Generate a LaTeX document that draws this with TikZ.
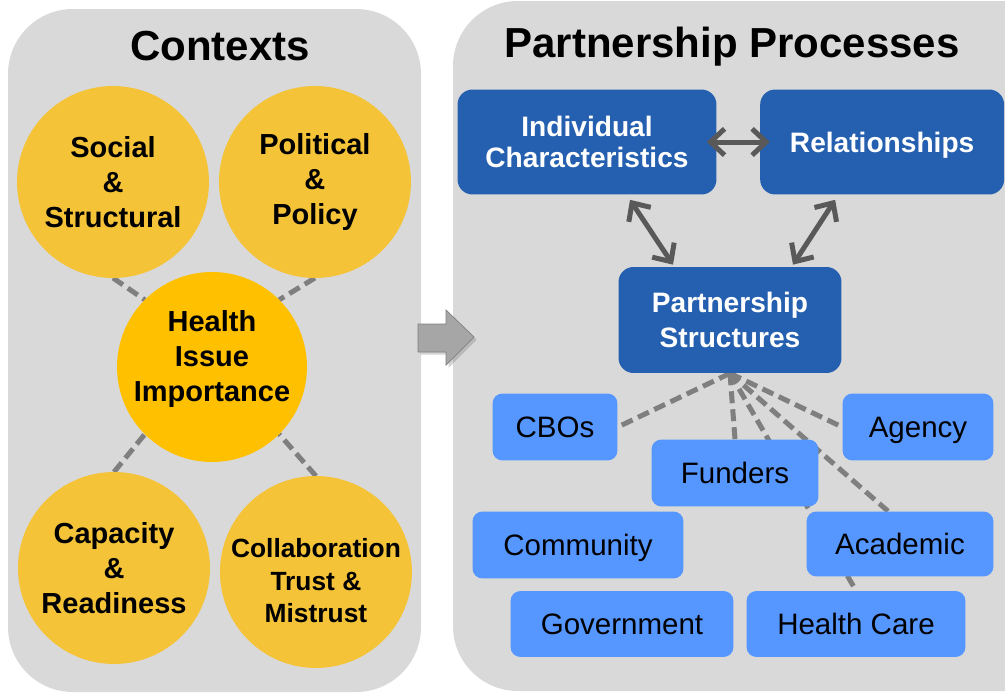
\documentclass[tikz,border=0pt]{standalone}
\usepackage{fontspec}
\setmainfont{Liberation Sans}
\usepackage{xcolor}
\usetikzlibrary{arrows.meta, positioning, calc, backgrounds, shadows}

\definecolor{panelgray}{HTML}{D9D9D9}
\definecolor{ctxgold}{RGB}{244,195,56}
\definecolor{hubgold}{HTML}{FFC000}
\definecolor{procblue}{RGB}{37,96,176}
\definecolor{actorblue}{RGB}{85,150,255}
\definecolor{linkgray}{HTML}{7F7F7F}
\definecolor{arrowgray}{HTML}{595959}

\begin{document}
\begin{tikzpicture}[
    x=0.02cm, y=-0.02cm,
    >={Straight Barb[length=8pt,width=15pt]},
    context/.style={
      circle,
      fill=ctxgold,
      inner sep=-8pt,
      outer sep=0pt,
      minimum size=3.84cm,
      align=center,
      font=\fontsize{16.5}{19.9}\selectfont\bfseries
    },
    hub/.style={context, fill=hubgold, minimum size=3.8cm},
    process/.style={
      fill=procblue,
      text=white,
      rounded corners=0.3cm,
      align=center,
      inner sep=0pt,
      font=\fontsize{16}{17.6}\selectfont\bfseries
    },
    actor/.style={
      fill=actorblue,
      rounded corners=0.2cm,
      inner sep=0pt,
      text depth=0pt,
      minimum height=1.34cm,
      font=\fontsize{16.8}{19}\selectfont
    },
    panel/.style={fill=panelgray, rounded corners=1.3cm},
    link/.style={draw=linkgray, line width=0.1cm, dash pattern=on 0.24cm off 0.12cm},
    twoway/.style={<->, draw=arrowgray, line width=0.1cm},
    title/.style={anchor=base, font=\fontsize{23.9}{28}\selectfont\bfseries}
]
\useasboundingbox (0,0) rectangle (1005,693);

% contexts
\node[title] (ctxtitle) at (220,60) {Contexts};
\node[context] (social) at (113,182) {Social\\\&\\Structural};
\node[context, right=0.2cm of social] (political) {Political\\\&\\Policy};
\node[hub] (health) at (212,367) {Health\\Issue\\Importance\rule[-13pt]{0pt}{0pt}};
\node[context] (capacity) at (114,568) {Capacity\\\&\\Readiness};
\node[context, right=0.2cm of capacity, yshift=-0.08cm, font=\fontsize{15}{18.5}\selectfont\bfseries] (collab) {\rule{0pt}{21pt}Collaboration\\Trust \&\\Mistrust};

% partnership processes
\node[title] (proctitle) at (732,57) {Partnership Processes};
\node[process, minimum width=5.18cm, minimum height=2.1cm] (ind) at (587,142) {Individual\\Characteristics};
\node[process, minimum width=4.88cm, minimum height=2.1cm, text depth=0pt, right=0.86cm of ind] (rel) {Relationships};
\node[process, minimum width=4.46cm, minimum height=2.12cm, font=\fontsize{16}{19.9}\selectfont\bfseries] (ps) at (730,320) {Partnership\\Structures};

\node[actor, minimum width=2.5cm] (cbo) at (555,427) {CBOs};
\node[actor, minimum width=3.02cm] (agency) at (918,427) {Agency};
\node[actor, minimum width=3.34cm] (fund) at (735,473) {Funders};
\node[actor, minimum width=4.22cm] (comm) at (578,545) {Community};
\node[actor, minimum width=3.74cm, minimum height=1.3cm] (acad) at (900,544) {Academic};
\node[actor, minimum width=4.46cm, minimum height=1.32cm] (gov) at (622,624) {Government};
\node[actor, minimum width=4.38cm, minimum height=1.32cm] (hc) at (856,624) {Health Care};

\draw[twoway, shorten <=-0.2cm, shorten >=-0.2cm] (ind) -- (rel);
\draw[twoway] ($(ind.south)+(43,5)$) -- ($(ps.north)+(-57,-2)$);
\draw[twoway] ($(rel.south)+(-47,5)$) -- ($(ps.north)+(63,-2)$);

% block arrow between the panels
\filldraw[fill=black!35, draw=black!50, drop shadow={shadow xshift=1.5pt, shadow yshift=-1.5pt, opacity=0.35}]
  (418,324) -- (446,324) -- (446,310) -- (474,337) -- (446,365) -- (446,352) -- (418,352) -- cycle;

\begin{scope}[on background layer]
  \fill[panel] (8,9) rectangle (421,692);
  \fill[panel] (453,1) rectangle (1070,691);
  \draw[link] (social.south) -- (health.135);
  \draw[link] (political.south) -- (health.45);
  \draw[link] (capacity.north) -- (health.225);
  \draw[link] (collab.north) -- (health.-45);
  \draw[link] (ps.south) -- (cbo.east);
  \draw[link] (ps.south) -- (fund.north);
  \draw[link] (ps.south) -- (hc.north);
  \draw[link] (ps.south) -- ([xshift=-0.24cm]acad.north);
  \draw[link] (ps.south) -- (agency.west);
\end{scope}
\end{tikzpicture}
\end{document}
